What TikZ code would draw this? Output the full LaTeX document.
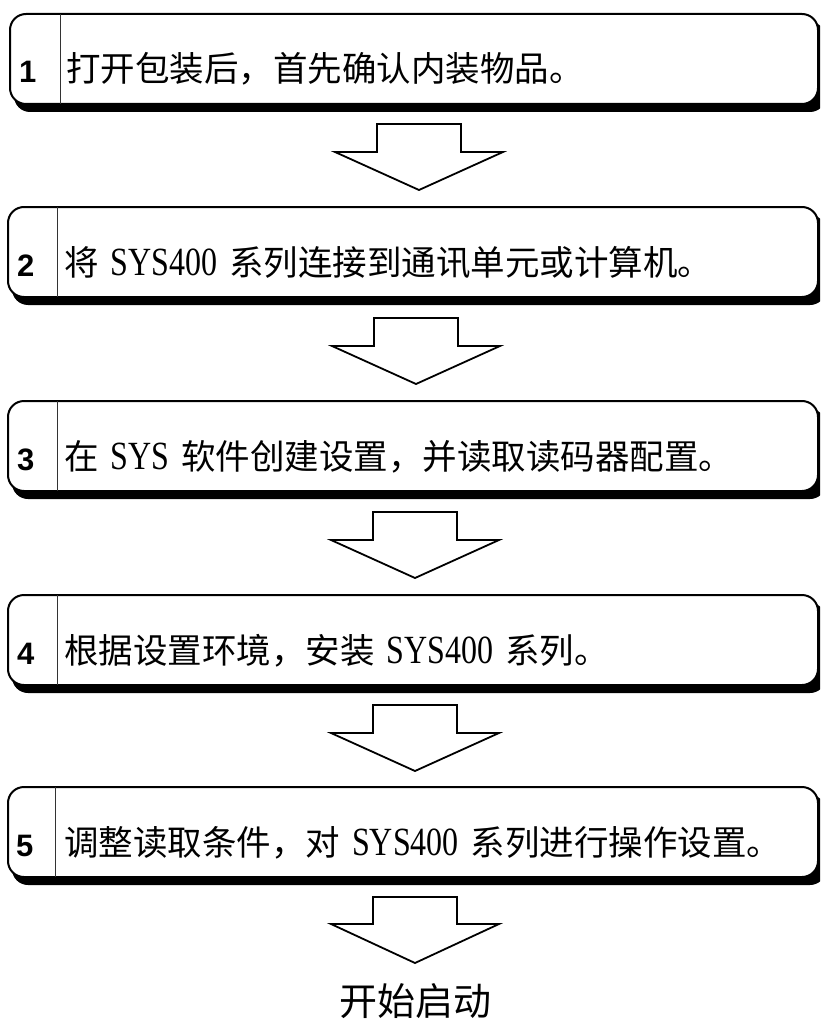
\documentclass[tikz,border=0pt]{standalone}
\usepackage{fontspec}
\setmainfont{Noto Sans CJK SC}
\newfontfamily\sysfont[FakeStretch=0.8]{Liberation Serif}
\newfontfamily\numfont{Liberation Sans}
\newcommand{\sys}[1]{\hspace{12pt}{\sysfont\fontsize{40}{40}\selectfont #1}\hspace{12pt}}
\tikzset{
  stepshadow/.style={fill=black,rounded corners=16pt},
  stepframe/.style={draw=black,fill=white,line width=2pt,rounded corners=16pt},
  divider/.style={draw=black!80,line width=1pt},
  stepno/.style={anchor=base west,inner sep=0pt,font=\numfont\bfseries\fontsize{31}{31}\selectfont},
  steptext/.style={anchor=base west,inner sep=0pt,font=\fontsize{34.5}{34.5}\selectfont},
  blockarrow/.style={draw=black,fill=white,line width=1.8pt,line join=miter}
}
\begin{document}
\begin{tikzpicture}[x=1pt,y=-1pt]
    \useasboundingbox (0,0) rectangle (820,1027);
    \clip (0,0) rectangle (820,1027);
    % riquadri dei passi: ombra nera spostata in basso a destra
    \fill[stepshadow] (14,22) rectangle (826,112);
    \draw[stepframe] (10,14) rectangle (818,104);
    \draw[divider] (60,14) -- (60,104);
    \node[stepno] (n1) at (19,83) {1};
    \node[steptext] (s1) at (66,82) {打开包装后，首先确认内装物品。};

    \fill[stepshadow] (12,215) rectangle (826,305);
    \draw[stepframe] (8,207) rectangle (818,297);
    \draw[divider] (57,207) -- (57,297);
    \node[stepno] (n2) at (17,276) {2};
    \node[steptext] (s2) at (64,275) {将\sys{SYS400}系列连接到通讯单元或计算机。};

    \fill[stepshadow] (12,409) rectangle (826,499);
    \draw[stepframe] (8,401) rectangle (818,491);
    \draw[divider] (57,401) -- (57,491);
    \node[stepno] (n3) at (17,470) {3};
    \node[steptext] (s3) at (64,469) {在\sys{SYS}软件创建设置，并读取读码器配置。};

    \fill[stepshadow] (12,603) rectangle (826,693);
    \draw[stepframe] (8,595) rectangle (818,685);
    \draw[divider] (57,595) -- (57,685);
    \node[stepno] (n4) at (17,664) {4};
    \node[steptext] (s4) at (64,663) {根据设置环境，安装\sys{SYS400}系列。};

    \fill[stepshadow] (12,795) rectangle (826,885);
    \draw[stepframe] (8,787) rectangle (818,877);
    \draw[divider] (55,787) -- (55,877);
    \node[stepno] (n5) at (16,856) {5};
    \node[steptext] (s5) at (64,855) {调整读取条件，对\sys{SYS400}系列进行操作设置。};

    % frecce a blocco fra i passi
    \draw[blockarrow] (377,124) -- ++(84,0) -- ++(0,28) -- ++(42,0) -- ++(-84,38) -- ++(-84,-38) -- ++(42,0) -- cycle;
    \draw[blockarrow] (374,318) -- ++(84,0) -- ++(0,28) -- ++(42,0) -- ++(-84,38) -- ++(-84,-38) -- ++(42,0) -- cycle;
    \draw[blockarrow] (373,512) -- ++(84,0) -- ++(0,28) -- ++(42,0) -- ++(-84,38) -- ++(-84,-38) -- ++(42,0) -- cycle;
    \draw[blockarrow] (373,705) -- ++(84,0) -- ++(0,28) -- ++(42,0) -- ++(-84,38) -- ++(-84,-38) -- ++(42,0) -- cycle;
    \draw[blockarrow] (373,897) -- ++(84,0) -- ++(0,27) -- ++(42,0) -- ++(-84,39) -- ++(-84,-39) -- ++(42,0) -- cycle;

    \node[anchor=base,inner sep=0pt,font=\fontsize{38}{38}\selectfont] (start) at (415,1015) {开始启动};
\end{tikzpicture}
\end{document}
